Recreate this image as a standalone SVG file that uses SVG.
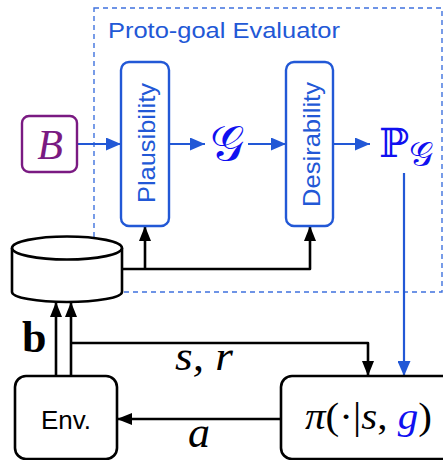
<svg xmlns="http://www.w3.org/2000/svg" width="443" height="460" viewBox="0 0 443 460">
<defs>
<style>
.blk{fill:none;stroke:#000;stroke-width:2.6;stroke-linejoin:round}
.blu{fill:none;stroke:#2258d6;stroke-width:2.2}
.bnode{fill:#fff;stroke:#2258d6;stroke-width:2.4}
.sans{font-family:"Liberation Sans","DejaVu Sans",sans-serif}
.ser{font-family:"Liberation Serif","DejaVu Serif",serif}
.math{font-family:"DejaVu Serif","Liberation Serif",serif}
</style>
<marker id="ab" markerUnits="userSpaceOnUse" markerWidth="16" markerHeight="12" refX="15" refY="6" orient="auto" viewBox="0 0 16 12">
<path d="M0,0 L15,6 L0,12 Z" fill="#000"/>
</marker>
<marker id="au" markerUnits="userSpaceOnUse" markerWidth="16" markerHeight="13" refX="15" refY="6.5" orient="auto" viewBox="0 0 16 13">
<path d="M0,0 L15,6.5 L0,13 Z" fill="#2258d6"/>
</marker>
</defs>
<rect width="443" height="460" fill="#fff"/>

<g id="evaluator">
<rect x="94" y="8" width="348" height="284" fill="none" stroke="#3f72de" stroke-width="1.4" stroke-dasharray="5,4"/>
<text x="108" y="38" class="sans" font-size="22" fill="#2258d6" textLength="232" lengthAdjust="spacingAndGlyphs">Proto-goal Evaluator</text>
</g>

<g id="connectors">
<line class="blu" x1="77" y1="144" x2="121" y2="144" marker-end="url(#au)"/>
<line class="blu" x1="169" y1="144" x2="205" y2="144" marker-end="url(#au)"/>
<line class="blu" x1="248" y1="144" x2="286" y2="144" marker-end="url(#au)"/>
<line class="blu" x1="333" y1="144" x2="370" y2="144" marker-end="url(#au)"/>
<line class="blu" x1="404" y1="173" x2="404" y2="376" marker-end="url(#au)"/>
<polyline class="blk" points="122,269 310,269 310,226" marker-end="url(#ab)"/>
<line class="blk" x1="145" y1="269" x2="145" y2="226" marker-end="url(#ab)"/>
<line class="blk" x1="56" y1="376" x2="56" y2="302" marker-end="url(#ab)"/>
<line class="blk" x1="71" y1="376" x2="71" y2="302" marker-end="url(#ab)"/>
<polyline class="blk" points="71,343 368,343 368,376" marker-end="url(#ab)"/>
<line class="blk" x1="281" y1="419" x2="117" y2="419" marker-end="url(#ab)"/>
<text x="22" y="352" class="ser" font-size="44" font-weight="bold">b</text>
<text x="175" y="370" class="ser" font-size="42" font-style="italic" textLength="58" lengthAdjust="spacingAndGlyphs">s, r</text>
<text x="188" y="447" class="ser" font-size="44" font-style="italic">a</text>
</g>

<g id="B">
<rect x="22" y="116" width="55" height="56" rx="7" fill="#fff" stroke="#7a1a82" stroke-width="2.4"/>
<text x="50" y="159" class="ser" font-size="42" font-style="italic" fill="#7a1a82" text-anchor="middle">B</text>
</g>

<g id="plausibility">
<rect class="bnode" x="121" y="62" width="48" height="164" rx="8"/>
<text transform="translate(155,143) rotate(-90)" class="sans" font-size="24" fill="#2258d6" text-anchor="middle" textLength="120" lengthAdjust="spacingAndGlyphs">Plausibility</text>
</g>

<g id="G">
<text x="227" y="160" class="math" font-size="48" fill="#1010f0" text-anchor="middle">𝒢</text>
</g>

<g id="desirability">
<rect class="bnode" x="286" y="62" width="47" height="164" rx="8"/>
<text transform="translate(320,144.5) rotate(-90)" class="sans" font-size="24" fill="#2258d6" text-anchor="middle" textLength="125" lengthAdjust="spacingAndGlyphs">Desirability</text>
</g>

<g id="PG">
<text x="379" y="157" class="math" font-size="40" fill="#1010f0">ℙ<tspan font-size="34" dy="9">𝒢</tspan></text>
</g>

<g id="buffer">
<path d="M12,248 L12,292 A55,10 0 0 0 122,292 L122,248" fill="#fff" stroke="#000" stroke-width="2.6"/>
<ellipse cx="67" cy="248" rx="55" ry="11.5" fill="#fff" stroke="#000" stroke-width="2.6"/>
</g>

<g id="env">
<rect x="15" y="376" width="102" height="83" rx="11" fill="#fff" stroke="#000" stroke-width="2.6"/>
<text x="66" y="429" class="sans" font-size="26" text-anchor="middle">Env.</text>
</g>

<g id="policy">
<rect x="281" y="376" width="180" height="83" rx="11" fill="#fff" stroke="#000" stroke-width="2.6"/>
<text x="305" y="429" class="ser" font-size="37" textLength="127" lengthAdjust="spacingAndGlyphs"><tspan font-style="italic">π</tspan>(·|<tspan font-style="italic">s</tspan>, <tspan font-style="italic" fill="#1010f0">g</tspan>)</text>
</g>
</svg>
